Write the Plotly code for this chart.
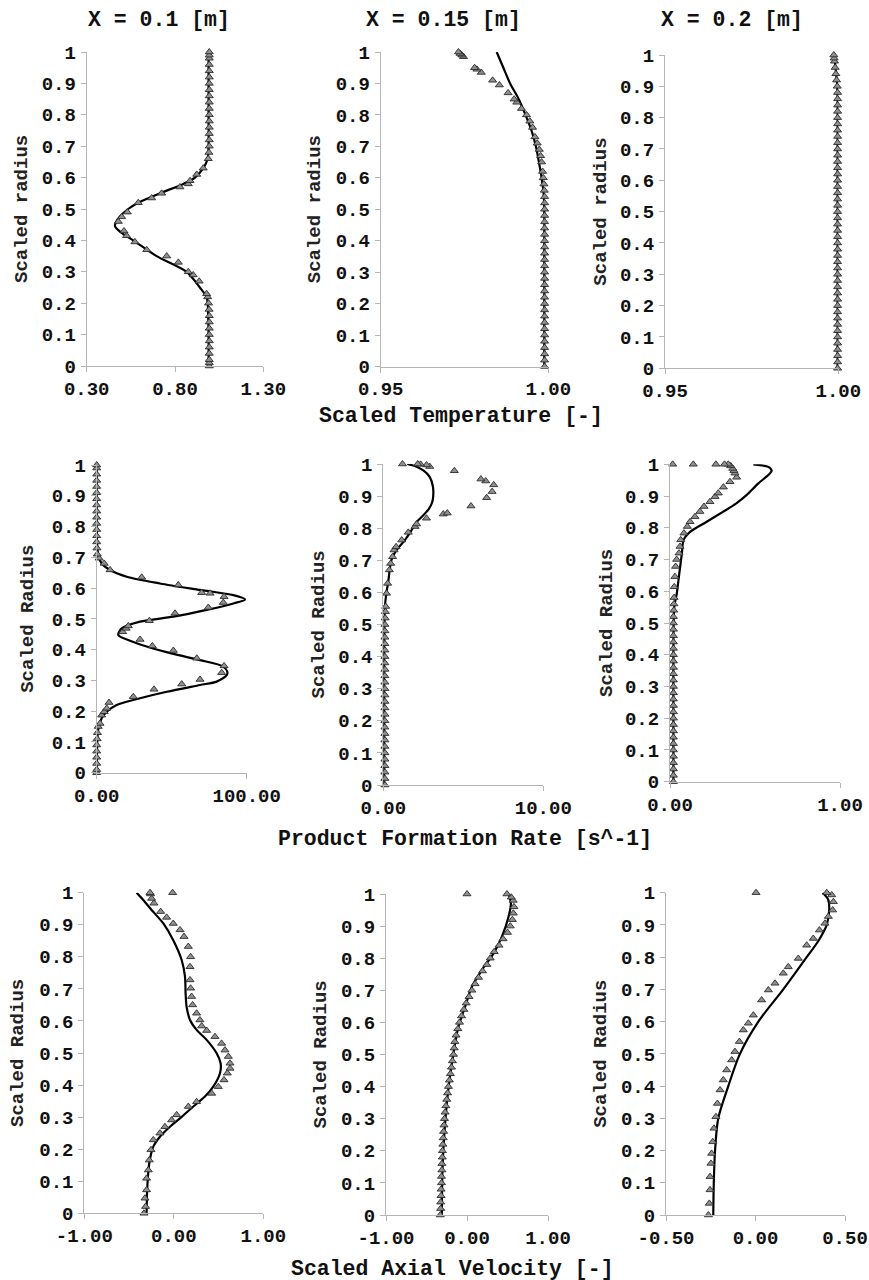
import plotly.graph_objects as go

# ---------------- DATA ----------------
# Row 1: Scaled Temperature [-]
T1_model_r = [0, 0.1, 0.2, 0.22, 0.25, 0.3, 0.35, 0.4, 0.42, 0.445, 0.47, 0.5, 0.52, 0.55, 0.58, 0.6, 0.63, 0.66, 0.7, 0.8, 0.9, 1.0]
T1_model_x = [0.99, 0.99, 0.985, 0.979, 0.941, 0.866, 0.696, 0.564, 0.507, 0.46, 0.479, 0.535, 0.592, 0.715, 0.847, 0.913, 0.96, 0.985, 0.99, 0.99, 0.99, 0.99]
T1_data_r = [0, 0.01, 0.02, 0.04, 0.06, 0.08, 0.10, 0.12, 0.14, 0.16, 0.18, 0.20, 0.22, 0.23, 0.27, 0.29, 0.30, 0.33, 0.35, 0.37, 0.395, 0.415, 0.43, 0.46, 0.475, 0.49, 0.52, 0.535, 0.55, 0.57, 0.58, 0.59, 0.61, 0.63, 0.66, 0.68, 0.70, 0.72, 0.74, 0.76, 0.78, 0.80, 0.82, 0.84, 0.86, 0.88, 0.90, 0.92, 0.94, 0.96, 0.98, 0.99, 1.0]
T1_data_x = [0.994, 0.994, 0.994, 0.994, 0.994, 0.994, 0.994, 0.994, 0.994, 0.994, 0.993, 0.99, 0.985, 0.979, 0.937, 0.903, 0.875, 0.819, 0.753, 0.64, 0.573, 0.526, 0.511, 0.479, 0.498, 0.53, 0.592, 0.668, 0.724, 0.828, 0.875, 0.885, 0.923, 0.96, 0.988, 0.992, 0.994, 0.994, 0.994, 0.994, 0.994, 0.994, 0.994, 0.994, 0.994, 0.994, 0.994, 0.994, 0.994, 0.994, 0.994, 0.994, 0.994]

T2_model_r = [0, 0.1, 0.2, 0.3, 0.4, 0.5, 0.55, 0.6, 0.65, 0.7, 0.75, 0.8, 0.85, 0.9, 0.95, 1.0]
T2_model_x = [0.9988, 0.9988, 0.9988, 0.9988, 0.9988, 0.9988, 0.9986, 0.998, 0.9972, 0.9963, 0.995, 0.9932, 0.9912, 0.9886, 0.9866, 0.9846]
T2_data_r = [0, 0.02, 0.04, 0.06, 0.08, 0.10, 0.12, 0.14, 0.16, 0.18, 0.20, 0.22, 0.24, 0.26, 0.28, 0.30, 0.32, 0.34, 0.36, 0.38, 0.40, 0.42, 0.44, 0.46, 0.48, 0.50, 0.52, 0.54, 0.56, 0.58, 0.60, 0.62, 0.65, 0.67, 0.69, 0.71, 0.73, 0.76, 0.78, 0.80, 0.82, 0.84, 0.85, 0.87, 0.895, 0.91, 0.935, 0.945, 0.95, 0.985, 0.99, 0.995, 1.0]
T2_data_x = [0.9989, 0.9989, 0.9989, 0.9989, 0.9989, 0.9989, 0.9989, 0.9989, 0.9989, 0.9989, 0.9989, 0.9989, 0.9989, 0.9989, 0.9989, 0.9989, 0.9989, 0.9989, 0.9989, 0.9989, 0.9989, 0.9989, 0.9989, 0.9989, 0.9989, 0.9989, 0.9989, 0.9989, 0.9988, 0.9987, 0.9985, 0.9983, 0.998, 0.9977, 0.9973, 0.9967, 0.996, 0.9953, 0.9945, 0.9935, 0.992, 0.9906, 0.9898, 0.988, 0.9854, 0.9834, 0.980, 0.9787, 0.978, 0.9747, 0.9742, 0.9737, 0.9732]

T3_model_r = [0, 0.2, 0.4, 0.6, 0.8, 0.85, 0.9, 0.95, 0.97, 1.0]
T3_model_x = [0.9998, 0.9998, 0.9998, 0.9998, 0.9998, 0.9998, 0.9997, 0.9993, 0.9991, 0.9987]
T3_data_r = [0, 0.02, 0.04, 0.06, 0.08, 0.10, 0.12, 0.14, 0.16, 0.18, 0.20, 0.22, 0.24, 0.26, 0.28, 0.30, 0.32, 0.34, 0.36, 0.38, 0.40, 0.42, 0.44, 0.46, 0.48, 0.50, 0.52, 0.54, 0.56, 0.58, 0.60, 0.62, 0.64, 0.66, 0.68, 0.70, 0.72, 0.74, 0.76, 0.78, 0.80, 0.82, 0.84, 0.86, 0.88, 0.90, 0.92, 0.94, 0.96, 0.98, 0.99, 1.0]
T3_data_x = [0.9998, 0.9998, 0.9998, 0.9998, 0.9998, 0.9998, 0.9998, 0.9998, 0.9998, 0.9998, 0.9998, 0.9998, 0.9998, 0.9998, 0.9998, 0.9998, 0.9998, 0.9998, 0.9998, 0.9998, 0.9998, 0.9998, 0.9998, 0.9998, 0.9998, 0.9998, 0.9998, 0.9998, 0.9998, 0.9998, 0.9998, 0.9998, 0.9998, 0.9998, 0.9998, 0.9998, 0.9998, 0.9998, 0.9998, 0.9998, 0.9998, 0.9998, 0.9998, 0.9998, 0.9998, 0.9997, 0.9995, 0.9993, 0.9991, 0.9989, 0.9988, 0.9987]

# Row 2: Product Formation Rate [s^-1]
P1_model_r = [0, 0.139, 0.177, 0.198, 0.22, 0.242, 0.263, 0.285, 0.296, 0.317, 0.328, 0.345, 0.366, 0.386, 0.41, 0.429, 0.447, 0.469, 0.491, 0.507, 0.529, 0.55, 0.563, 0.577, 0.594, 0.615, 0.637, 0.659, 0.68, 0.702, 0.735, 1.0]
P1_model_x = [0, 1.0, 3.3, 6.7, 13.3, 28.9, 46.7, 68.9, 80, 86.7, 87.1, 84.4, 68.9, 51.1, 33.3, 22.2, 14.4, 16.7, 28.9, 51.1, 73.3, 91.1, 98.9, 91.1, 68.9, 42.2, 20, 8.9, 3.3, 1.3, 0.4, 0]
P1_data_r = [0, 0.01, 0.03, 0.05, 0.07, 0.09, 0.11, 0.13, 0.15, 0.16, 0.187, 0.198, 0.209, 0.228, 0.247, 0.271, 0.288, 0.303, 0.325, 0.347, 0.372, 0.397, 0.412, 0.433, 0.458, 0.469, 0.477, 0.494, 0.518, 0.537, 0.553, 0.572, 0.583, 0.585, 0.61, 0.635, 0.659, 0.68, 0.697, 0.71, 0.73, 0.75, 0.77, 0.79, 0.81, 0.83, 0.85, 0.87, 0.89, 0.91, 0.93, 0.95, 0.97, 0.99, 1.0]
P1_data_x = [0, 0, 0, 0, 0, 0, 0.3, 0.5, 1.0, 2.2, 3.3, 5.0, 6.7, 8.2, 24.4, 38.2, 56.7, 68.9, 83.3, 84.9, 66.7, 51.1, 37.1, 28.9, 17.3, 19.6, 21.1, 35.1, 52.2, 74.4, 84.4, 84.9, 75.6, 70.0, 54.4, 30.0, 8.9, 5.0, 1.6, 0.4, 0.2, 0, 0, 0, 0, 0, 0, 0, 0, 0, 0, 0, 0, 0, 0]

P2_model_r = [0, 0.2, 0.4, 0.555, 0.6, 0.63, 0.67, 0.7, 0.73, 0.763, 0.794, 0.82, 0.84, 0.86, 0.88, 0.9, 0.93, 0.96, 0.98, 0.993, 1.0]
P2_model_x = [0.05, 0.05, 0.05, 0.1, 0.2, 0.3, 0.4, 0.5, 0.8, 1.35, 1.77, 2.1, 2.5, 2.85, 3.05, 3.12, 3.1, 2.9, 2.5, 2.0, 1.5]
P2_data_r = [0, 0.02, 0.04, 0.06, 0.08, 0.10, 0.12, 0.14, 0.16, 0.18, 0.20, 0.22, 0.24, 0.26, 0.28, 0.30, 0.32, 0.34, 0.36, 0.38, 0.40, 0.42, 0.44, 0.46, 0.48, 0.50, 0.52, 0.54, 0.556, 0.597, 0.628, 0.67, 0.69, 0.711, 0.732, 0.742, 0.763, 0.787, 0.805, 0.813, 0.831, 0.844, 0.847, 0.869, 0.895, 0.914, 0.935, 0.947, 0.953, 0.979, 0.992, 0.997, 0.999, 1.0, 1.0]
P2_data_x = [0.1, 0.1, 0.1, 0.1, 0.1, 0.1, 0.1, 0.1, 0.1, 0.1, 0.1, 0.1, 0.1, 0.1, 0.1, 0.1, 0.1, 0.1, 0.1, 0.1, 0.1, 0.1, 0.1, 0.1, 0.1, 0.1, 0.12, 0.13, 0.15, 0.2, 0.27, 0.38, 0.46, 0.58, 0.67, 0.8, 1.15, 1.56, 1.98, 2.08, 2.7, 3.75, 4.0, 5.48, 6.46, 6.8, 6.9, 6.4, 6.1, 4.44, 2.9, 2.7, 2.33, 2.15, 1.2]

P3_model_r = [0, 0.2, 0.4, 0.551, 0.593, 0.636, 0.678, 0.72, 0.762, 0.788, 0.819, 0.851, 0.877, 0.903, 0.94, 0.966, 0.98, 0.992, 1.0]
P3_model_x = [0.02, 0.02, 0.02, 0.025, 0.04, 0.05, 0.06, 0.07, 0.08, 0.12, 0.216, 0.314, 0.39, 0.45, 0.52, 0.578, 0.598, 0.578, 0.49]
P3_data_r = [0, 0.02, 0.04, 0.06, 0.08, 0.10, 0.12, 0.14, 0.16, 0.18, 0.20, 0.22, 0.24, 0.26, 0.28, 0.30, 0.32, 0.34, 0.36, 0.38, 0.40, 0.42, 0.44, 0.46, 0.48, 0.50, 0.52, 0.54, 0.56, 0.58, 0.614, 0.646, 0.678, 0.70, 0.72, 0.741, 0.762, 0.783, 0.804, 0.819, 0.835, 0.851, 0.867, 0.882, 0.898, 0.909, 0.928, 0.945, 0.959, 0.972, 0.98, 0.987, 0.995, 1.0, 1.0, 1.0, 1.0, 1.0]
P3_data_x = [0.02, 0.02, 0.02, 0.02, 0.02, 0.02, 0.02, 0.02, 0.02, 0.02, 0.02, 0.02, 0.02, 0.02, 0.02, 0.02, 0.02, 0.02, 0.02, 0.02, 0.02, 0.02, 0.02, 0.02, 0.02, 0.02, 0.02, 0.022, 0.023, 0.024, 0.025, 0.029, 0.033, 0.039, 0.053, 0.059, 0.063, 0.082, 0.102, 0.118, 0.147, 0.176, 0.2, 0.235, 0.265, 0.284, 0.314, 0.353, 0.392, 0.382, 0.376, 0.369, 0.357, 0.343, 0.32, 0.27, 0.137, 0.016]

# Row 3: Scaled Axial Velocity [-]
V1_model_r = [0, 0.083, 0.156, 0.208, 0.239, 0.27, 0.301, 0.333, 0.364, 0.395, 0.437, 0.468, 0.499, 0.541, 0.572, 0.603, 0.644, 0.686, 0.738, 0.79, 0.852, 0.904, 0.946, 0.977, 1.0]
V1_model_x = [-0.304, -0.296, -0.274, -0.229, -0.155, -0.043, 0.088, 0.218, 0.348, 0.441, 0.516, 0.523, 0.479, 0.367, 0.255, 0.181, 0.143, 0.132, 0.125, 0.088, -0.006, -0.117, -0.248, -0.341, -0.415]
V1_data_r = [0, 0.021, 0.047, 0.073, 0.109, 0.135, 0.166, 0.198, 0.229, 0.25, 0.27, 0.291, 0.307, 0.333, 0.348, 0.374, 0.395, 0.416, 0.437, 0.452, 0.468, 0.489, 0.509, 0.53, 0.551, 0.57, 0.584, 0.603, 0.624, 0.65, 0.676, 0.702, 0.728, 0.769, 0.8, 0.832, 0.863, 0.884, 0.904, 0.923, 0.941, 0.967, 0.982, 0.996, 1.0, 1.0]
V1_data_x = [-0.333, -0.315, -0.322, -0.304, -0.304, -0.285, -0.274, -0.255, -0.229, -0.155, -0.099, -0.024, 0.032, 0.162, 0.255, 0.423, 0.497, 0.561, 0.598, 0.628, 0.628, 0.609, 0.572, 0.534, 0.46, 0.367, 0.311, 0.292, 0.255, 0.21, 0.199, 0.188, 0.181, 0.181, 0.188, 0.162, 0.114, 0.069, -0.006, -0.08, -0.147, -0.222, -0.248, -0.259, -0.266, -0.013]

V2_model_r = [0, 0.14, 0.244, 0.348, 0.42, 0.504, 0.587, 0.649, 0.711, 0.763, 0.815, 0.867, 0.929, 0.971, 1.0]
V2_model_x = [-0.311, -0.303, -0.282, -0.249, -0.216, -0.167, -0.105, -0.023, 0.06, 0.184, 0.328, 0.431, 0.513, 0.542, 0.513]
V2_data_r = [0, 0.02, 0.04, 0.06, 0.08, 0.1, 0.12, 0.14, 0.16, 0.18, 0.2, 0.22, 0.24, 0.26, 0.28, 0.3, 0.32, 0.34, 0.36, 0.38, 0.4, 0.42, 0.44, 0.46, 0.48, 0.5, 0.52, 0.54, 0.56, 0.58, 0.6, 0.62, 0.64, 0.66, 0.68, 0.7, 0.72, 0.74, 0.76, 0.78, 0.8, 0.82, 0.84, 0.86, 0.88, 0.9, 0.92, 0.94, 0.96, 0.98, 0.99, 1.0, 1.0]
V2_data_x = [-0.33, -0.325, -0.325, -0.32, -0.32, -0.315, -0.315, -0.31, -0.31, -0.305, -0.303, -0.298, -0.294, -0.289, -0.284, -0.278, -0.27, -0.261, -0.25, -0.24, -0.229, -0.217, -0.205, -0.192, -0.18, -0.167, -0.158, -0.15, -0.135, -0.113, -0.093, -0.067, -0.038, -0.01, 0.025, 0.06, 0.1, 0.142, 0.192, 0.245, 0.287, 0.336, 0.395, 0.445, 0.5, 0.534, 0.56, 0.572, 0.58, 0.57, 0.546, 0.493, 0.0]

V3_model_r = [0, 0.1, 0.2, 0.3, 0.4, 0.5, 0.6, 0.7, 0.8, 0.85, 0.9, 0.95, 0.98, 1.0]
V3_model_x = [-0.236, -0.233, -0.226, -0.208, -0.152, -0.087, 0.016, 0.155, 0.286, 0.351, 0.398, 0.412, 0.405, 0.375]
V3_data_r = [0, 0.036, 0.078, 0.119, 0.16, 0.191, 0.227, 0.269, 0.305, 0.346, 0.388, 0.419, 0.45, 0.481, 0.507, 0.538, 0.574, 0.595, 0.62, 0.667, 0.698, 0.719, 0.75, 0.77, 0.796, 0.837, 0.858, 0.884, 0.905, 0.926, 0.946, 0.972, 0.993, 1.0, 1.0]
V3_data_x = [-0.263, -0.258, -0.254, -0.254, -0.249, -0.245, -0.239, -0.232, -0.221, -0.213, -0.198, -0.18, -0.161, -0.133, -0.115, -0.09, -0.068, -0.04, -0.012, 0.034, 0.072, 0.109, 0.155, 0.183, 0.239, 0.286, 0.323, 0.357, 0.388, 0.407, 0.431, 0.435, 0.426, 0.398, 0.003]

y_ticks = [0, 0.1, 0.2, 0.3, 0.4, 0.5, 0.6, 0.7, 0.8, 0.9, 1]
y_tick_labels = ["0", "0.1", "0.2", "0.3", "0.4", "0.5", "0.6", "0.7", "0.8", "0.9", "1"]

col_titles = ["X = 0.1 [m]", "X = 0.15 [m]", "X = 0.2 [m]"]
row_titles = ["Scaled Temperature [-]", "Product Formation Rate [s^-1]", "Scaled Axial Velocity [-]"]
y_titles = ["Scaled radius", "Scaled Radius", "Scaled Radius"]

# ---------------- FIGURE ----------------
W, H = 869, 1280
FONT = "Liberation Mono, Courier New, monospace"
AXC = "#b5b5b5"

panels = [
    (T1_model_r, T1_model_x, T1_data_r, T1_data_x, [0.3, 1.3], [0.3, 0.8, 1.3], ["0.30", "0.80", "1.30"], (86.7, 263.3), (52, 366), 22, 0),
    (T2_model_r, T2_model_x, T2_data_r, T2_data_x, [0.95, 1.0], [0.95, 1.0], ["0.95", "1.00"], (380.7, 548.3), (52, 366.5), 315, 0),
    (T3_model_r, T3_model_x, T3_data_r, T3_data_x, [0.95, 1.0], [0.95, 1.0], ["0.95", "1.00"], (665, 838.3), (55, 368.3), 601, 0),
    (P1_model_r, P1_model_x, P1_data_r, P1_data_x, [0, 100], [0, 100], ["0.00", "100.00"], (96.7, 246.7), (465, 772.7), 28, 1),
    (P2_model_r, P2_model_x, P2_data_r, P2_data_x, [0, 10], [0, 10], ["0.00", "10.00"], (383.3, 543.3), (464, 785), 318, 1),
    (P3_model_r, P3_model_x, P3_data_r, P3_data_x, [0, 1], [0, 1], ["0.00", "1.00"], (670, 840), (464.3, 781.7), 607, 1),
    (V1_model_r, V1_model_x, V1_data_r, V1_data_x, [-1, 1], [-1, 0, 1], ["-1.00", "0.00", "1.00"], (84.3, 263.3), (892.7, 1213.3), 18, 2),
    (V2_model_r, V2_model_x, V2_data_r, V2_data_x, [-1, 1], [-1, 0, 1], ["-1.00", "0.00", "1.00"], (386, 548), (894, 1215), 320, 2),
    (V3_model_r, V3_model_x, V3_data_r, V3_data_x, [-0.5, 0.5], [-0.5, 0, 0.5], ["-0.50", "0.00", "0.50"], (666, 845), (892.7, 1215), 601, 2),
]

fig = go.Figure()
layout = {}
annotations = []
tickfont = dict(family=FONT, size=19, color="#111", weight="bold")

for i, (mr, mx, dr, dx, xr, xt, xl, pxd, pyd, ytx, row) in enumerate(panels):
    n = i + 1
    xa = "x" if n == 1 else f"x{n}"
    ya = "y" if n == 1 else f"y{n}"
    fig.add_trace(go.Scatter(
        x=mx, y=mr, mode="lines", xaxis=xa, yaxis=ya,
        line=dict(color="#000", width=2.2, shape="spline", smoothing=0.8),
        showlegend=False, cliponaxis=False, hoverinfo="skip"))
    fig.add_trace(go.Scatter(
        x=dx, y=dr, mode="markers", xaxis=xa, yaxis=ya,
        marker=dict(symbol="triangle-up", size=7, color="#8f8f8f",
                    line=dict(color="#2a2a2a", width=0.9)),
        showlegend=False, cliponaxis=False, hoverinfo="skip"))
    xd = [pxd[0] / W, pxd[1] / W]
    yd = [1 - pyd[1] / H, 1 - pyd[0] / H]
    layout["xaxis" if n == 1 else f"xaxis{n}"] = dict(
        domain=xd, range=xr, anchor=ya, tickvals=xt, ticktext=xl,
        showgrid=False, zeroline=False, showline=True, linecolor=AXC, linewidth=1,
        ticks="outside", ticklen=5, tickcolor=AXC, tickfont=tickfont, fixedrange=True,
        automargin=False)
    layout["yaxis" if n == 1 else f"yaxis{n}"] = dict(
        domain=yd, range=[0, 1], anchor=xa, tickvals=y_ticks, ticktext=y_tick_labels,
        showgrid=False, zeroline=False, showline=True, linecolor=AXC, linewidth=1,
        ticks="outside", ticklen=5, tickcolor=AXC, tickfont=tickfont,
        ticklabelstandoff=1, fixedrange=True, automargin=False)
    annotations.append(dict(
        text=y_titles[row], textangle=-90, xref="paper", yref="paper",
        x=ytx / W, y=(yd[0] + yd[1]) / 2, xanchor="center", yanchor="middle",
        showarrow=False, font=dict(family=FONT, size=19, color="#222", weight="bold")))

col_px = [159, 443, 732]
for t, cx in zip(col_titles, col_px):
    annotations.append(dict(text=t, xref="paper", yref="paper", x=cx / W, y=1 - 20 / H,
                            xanchor="center", yanchor="middle", showarrow=False,
                            font=dict(family=FONT, size=21.5, color="#111", weight="bold")))

row_px = [(461, 416), (465, 839), (452, 1269)]
for t, (cx, cy) in zip(row_titles, row_px):
    annotations.append(dict(text=t, xref="paper", yref="paper", x=cx / W, y=1 - cy / H,
                            xanchor="center", yanchor="middle", showarrow=False,
                            font=dict(family=FONT, size=21.5, color="#111", weight="bold")))

fig.update_layout(
    width=W, height=H, margin=dict(l=0, r=0, t=0, b=0, pad=0, autoexpand=False),
    paper_bgcolor="white", plot_bgcolor="white",
    annotations=annotations, **layout)

fig.write_html(
    "out.html",
    config={"displayModeBar": False},
    post_script="document.body.style.margin='0';document.body.style.padding='0';"
                "document.documentElement.style.overflow='hidden';")
